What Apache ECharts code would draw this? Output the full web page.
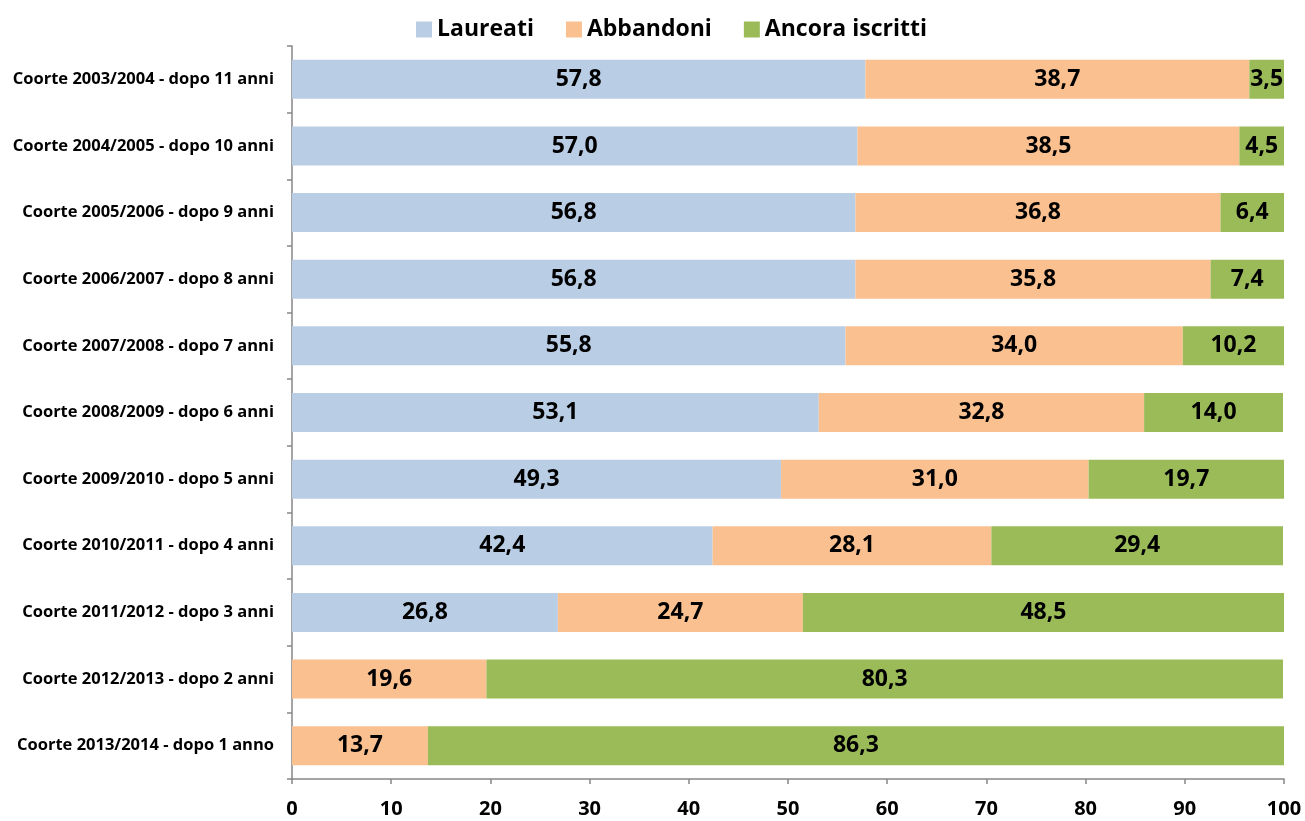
<!DOCTYPE html>
<html>
<head>
<meta charset="utf-8">
<script src="https://cdn.jsdelivr.net/npm/echarts@6/dist/echarts.min.js"></script>
<style>
  html, body { margin: 0; padding: 0; background: #fff; }
  #chart { width: 1305px; height: 821px; }
</style>
</head>
<body>
<div id="chart"></div>
<script>
// coorti, dall'alto verso il basso
const categories = [
  'Coorte 2003/2004 - dopo 11 anni',
  'Coorte 2004/2005 - dopo 10 anni',
  'Coorte 2005/2006 - dopo 9 anni',
  'Coorte 2006/2007 - dopo 8 anni',
  'Coorte 2007/2008 - dopo 7 anni',
  'Coorte 2008/2009 - dopo 6 anni',
  'Coorte 2009/2010 - dopo 5 anni',
  'Coorte 2010/2011 - dopo 4 anni',
  'Coorte 2011/2012 - dopo 3 anni',
  'Coorte 2012/2013 - dopo 2 anni',
  'Coorte 2013/2014 - dopo 1 anno'
];
const laureati = [57.8, 57.0, 56.8, 56.8, 55.8, 53.1, 49.3, 42.4, 26.8, null, null];
const abbandoni = [38.7, 38.5, 36.8, 35.8, 34.0, 32.8, 31.0, 28.1, 24.7, 19.6, 13.7];
const ancoraIscritti = [3.5, 4.5, 6.4, 7.4, 10.2, 14.0, 19.7, 29.4, 48.5, 80.3, 86.3];
const xTicks = [0, 10, 20, 30, 40, 50, 60, 70, 80, 90, 100];

const font = '"Open Sans", sans-serif';

const labelCfg = {
  show: true,
  position: 'inside',
  color: '#000',
  fontFamily: font,
  fontWeight: 'bold',
  fontSize: 23,
  formatter: (p) => p.value == null ? '' : Number(p.value).toFixed(1).replace('.', ',')
};

const mkSeries = (name, data, color) => ({
  name: name,
  type: 'bar',
  stack: 'tot',
  data: data,
  barWidth: 39,
  itemStyle: { color: color },
  label: labelCfg,
  emphasis: { disabled: true }
});

const chart = echarts.init(document.getElementById('chart'));
chart.setOption({
  animation: false,
  legend: {
    top: 13,
    left: 411,
    itemWidth: 16,
    itemHeight: 16,
    itemGap: 32,
    icon: 'rect',
    textStyle: { color: '#000', fontFamily: font, fontWeight: 'bold', fontSize: 23 }
  },
  grid: { left: 292, right: 21, top: 46, bottom: 42 },
  xAxis: {
    type: 'value',
    min: 0,
    max: 100,
    interval: 10,
    splitLine: { show: false },
    axisLine: { show: true, lineStyle: { color: '#868686', width: 1.5 } },
    axisTick: { show: true, length: 5, lineStyle: { color: '#868686', width: 1.5 } },
    axisLabel: {
      color: '#000', fontFamily: font, fontWeight: 'bold', fontSize: 20, margin: 20,
      formatter: (v) => xTicks.includes(v) ? String(v) : ''
    }
  },
  yAxis: {
    type: 'category',
    inverse: true,
    data: categories,
    axisLine: { show: true, lineStyle: { color: '#868686', width: 1.5 } },
    axisTick: { show: true, length: 5, inside: false, lineStyle: { color: '#868686', width: 1.5 } },
    axisLabel: { color: '#000', fontFamily: font, fontWeight: 'bold', fontSize: 16.5, margin: 18 }
  },
  series: [
    mkSeries('Laureati', laureati, '#B9CDE5'),
    mkSeries('Abbandoni', abbandoni, '#FAC090'),
    mkSeries('Ancora iscritti', ancoraIscritti, '#9BBB59')
  ]
});
</script>
</body>
</html>
